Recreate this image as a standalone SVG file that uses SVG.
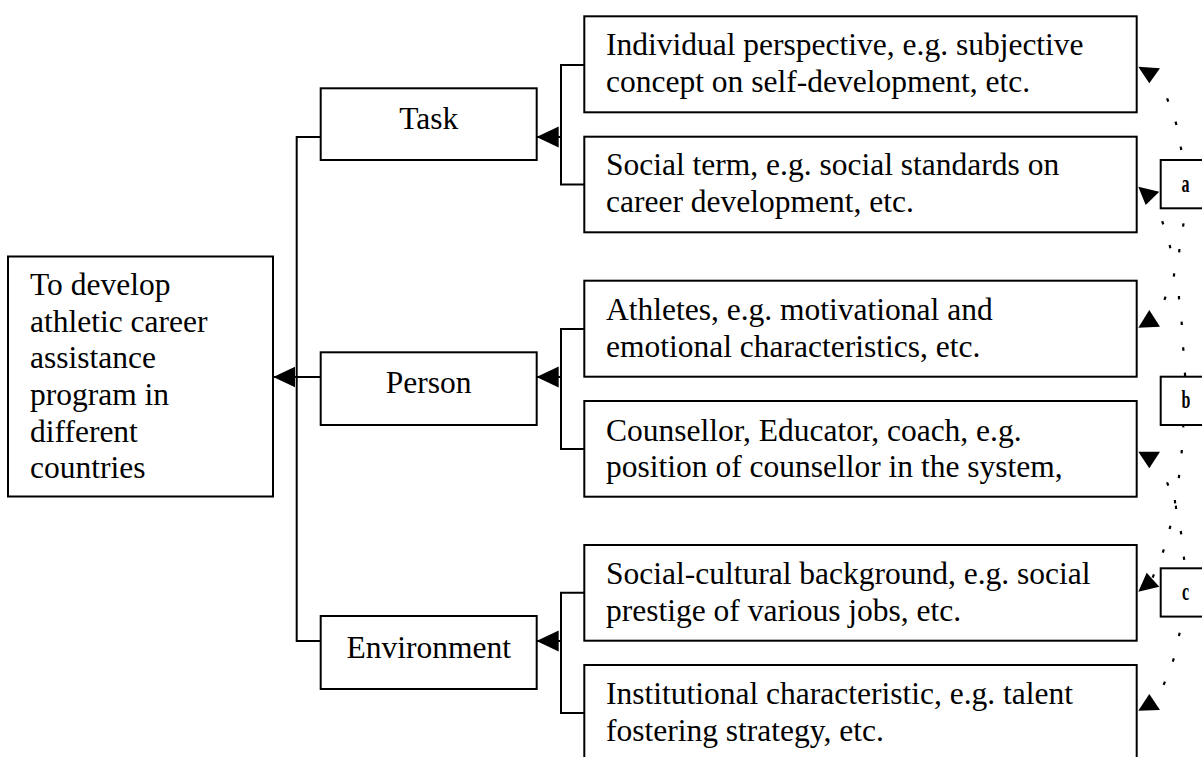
<svg xmlns="http://www.w3.org/2000/svg" width="1202" height="757" viewBox="0 0 1202 757">
  <style>
    .box { fill: #fff; stroke: #000; stroke-width: 2; }
    .txt { font-family: "Liberation Serif", "Times New Roman", serif; font-size: 31.5px; fill: #000; }
    .mid { text-anchor: middle; }
    .lbl { font-family: "Liberation Serif", "Times New Roman", serif; font-size: 25px; font-weight: bold; fill: #000; text-anchor: middle; }
    .wire { fill: none; stroke: #000; stroke-width: 2; }
    .dots { fill: none; stroke: none; marker-start: url(#dot); marker-mid: url(#dot); marker-end: url(#dot); }
    .head { fill: #000; stroke: none; }
  </style>
  <defs>
    <marker id="arrow" markerUnits="userSpaceOnUse" markerWidth="22" markerHeight="22" viewBox="0 -10 20 20" refX="20" refY="0" orient="auto">
      <path d="M0,-9.5 L20,0 L0,9.5 Z" fill="#000"/>
    </marker>
    <marker id="dot" markerUnits="userSpaceOnUse" markerWidth="6" markerHeight="6" viewBox="-3 -3 6 6" refX="0" refY="0" orient="auto">
      <path d="M-1.7,0 L1.7,0" stroke="#000" stroke-width="2.2"/>
    </marker>
    <clipPath id="clipB">
      <rect x="1150" y="370" width="40" height="60"/>
    </clipPath>
  </defs>
  <rect width="1202" height="757" fill="#fff"/>

  <!-- tree connectors and dotted relation lines -->
  <g id="connectors">
    <!-- trunk from the three categories to the goal box -->
    <path class="wire" d="M320.7,137 H296.7 V641 H320.7"/>
    <path class="wire" d="M320.7,377 H273.3" marker-end="url(#arrow)"/>
    <!-- Task bracket -->
    <path class="wire" d="M584.3,65 H561 V184.5 H584.3"/>
    <path class="wire" d="M561,137 H536.7" marker-end="url(#arrow)"/>
    <!-- Person bracket -->
    <path class="wire" d="M584.3,329 H561 V449 H584.3"/>
    <path class="wire" d="M561,377 H536.7" marker-end="url(#arrow)"/>
    <!-- Environment bracket -->
    <path class="wire" d="M584.3,592.7 H561 V713 H584.3"/>
    <path class="wire" d="M561,641 H536.7" marker-end="url(#arrow)"/>

    <!-- dotted relations between a / b / c and the detail boxes -->
    <path class="dots" d="M1181,148.3 L1176,123.3 L1167.7,100"/>
    <path class="dots" d="M1183.3,225 L1179.3,250.7 L1179,297.7 L1181.7,323.3 L1183.3,349 L1185,374.3"/>
    <path class="dots" d="M1162.7,222.7 L1170,246.7 L1174,275 L1165,298.3"/>
    <path class="dots" d="M1183.3,425.7 L1181.7,451.7 L1179,476.5 L1176,507.3 L1181,532.7 L1184,558.3"/>
    <path class="dots" d="M1167.7,484 L1175,501.7 L1170,527.3 L1163.3,551 L1153.3,576"/>
    <path class="dots" d="M1179.3,634.3 L1173.3,660 L1164.3,683.3"/>

    <polygon class="head" points="1138.3,66.7 1160,68.3 1149.3,83.3"/>
    <polygon class="head" points="1138.3,186.7 1159.3,191.7 1145.7,205"/>
    <polygon class="head" points="1138.3,327.7 1149.3,310 1160,326.7"/>
    <polygon class="head" points="1138.3,451.7 1160,451.7 1149.3,468.3"/>
    <polygon class="head" points="1138.3,591.7 1146.7,572.7 1159.3,586.7"/>
    <polygon class="head" points="1138.3,710.7 1149.3,694 1160,710"/>
  </g>

  <!-- goal -->
  <g id="goal">
    <rect class="box" x="8" y="256.5" width="265" height="240"/>
    <text class="txt" x="30" y="295">To develop</text>
    <text class="txt" x="30" y="331.7">athletic career</text>
    <text class="txt" x="30" y="368.3">assistance</text>
    <text class="txt" x="30" y="405">program in</text>
    <text class="txt" x="30" y="441.7">different</text>
    <text class="txt" x="30" y="478.3">countries</text>
  </g>

  <!-- categories -->
  <g id="task">
    <rect class="box" x="320.7" y="88.3" width="216" height="71.7"/>
    <text class="txt mid" x="428.7" y="129.3">Task</text>
  </g>
  <g id="person">
    <rect class="box" x="320.7" y="352.3" width="216" height="72.7"/>
    <text class="txt mid" x="428.7" y="392.7">Person</text>
  </g>
  <g id="environment">
    <rect class="box" x="320.7" y="616" width="216" height="73"/>
    <text class="txt mid" x="428.7" y="657.7">Environment</text>
  </g>

  <!-- detail boxes -->
  <g id="individual">
    <rect class="box" x="584.3" y="16.3" width="552.4" height="96"/>
    <text class="txt" x="606" y="55">Individual perspective, e.g. subjective</text>
    <text class="txt" x="606" y="91.7">concept on self-development, etc.</text>
  </g>
  <g id="social-term">
    <rect class="box" x="584.3" y="136.7" width="552.4" height="95.6"/>
    <text class="txt" x="606" y="175">Social term, e.g. social standards on</text>
    <text class="txt" x="606" y="211.7">career development, etc.</text>
  </g>
  <g id="athletes">
    <rect class="box" x="584.3" y="280.7" width="552.4" height="96"/>
    <text class="txt" x="606" y="320">Athletes, e.g. motivational and</text>
    <text class="txt" x="606" y="357.3">emotional characteristics, etc.</text>
  </g>
  <g id="counsellor">
    <rect class="box" x="584.3" y="401" width="552.4" height="95.7"/>
    <text class="txt" x="606" y="440.7">Counsellor, Educator, coach, e.g.</text>
    <text class="txt" x="606" y="477.3">position of counsellor in the system,</text>
  </g>
  <g id="social-cultural">
    <rect class="box" x="584.3" y="545" width="552.4" height="95.7"/>
    <text class="txt" x="606" y="584">Social-cultural background, e.g. social</text>
    <text class="txt" x="606" y="620.7">prestige of various jobs, etc.</text>
  </g>
  <g id="institutional">
    <rect class="box" x="584.3" y="665" width="552.4" height="100"/>
    <text class="txt" x="606" y="704.3">Institutional characteristic, e.g. talent</text>
    <text class="txt" x="606" y="740.7">fostering strategy, etc.</text>
  </g>

  <!-- relation tags -->
  <g id="tag-a">
    <rect class="box" x="1160.7" y="160" width="60" height="48.3"/>
    <text class="lbl" transform="translate(1185.5,191.7) scale(0.64,1)">a</text>
  </g>
  <g id="tag-b">
    <rect class="box" x="1160.7" y="376.7" width="60" height="48.3"/>
    <g clip-path="url(#clipB)">
      <text class="lbl" transform="translate(1186,408.3) scale(0.64,1)">b</text>
    </g>
  </g>
  <g id="tag-c">
    <rect class="box" x="1160.7" y="568.3" width="60" height="48.3"/>
    <text class="lbl" transform="translate(1185.5,600) scale(0.64,1)">c</text>
  </g>
</svg>
